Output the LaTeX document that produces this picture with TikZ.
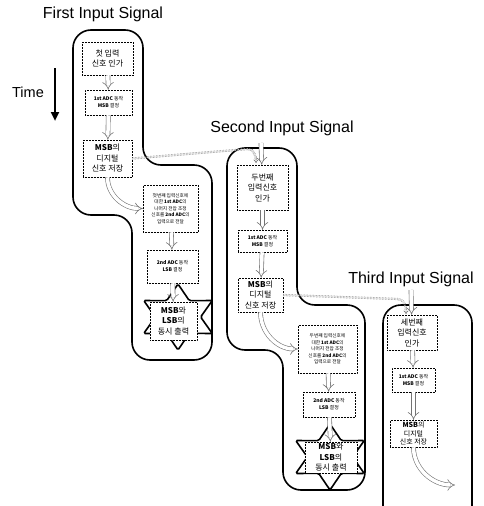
\documentclass[tikz,border=0pt]{standalone}
\usepackage{fontspec}
\setmainfont{Liberation Sans}
\newfontfamily\kr{Noto Sans CJK KR}
\usepackage{tikz}
\usetikzlibrary{shapes.geometric}
\usetikzlibrary{arrows.meta}
\tikzset{
	proc node/.style={draw,densely dotted,line width=0.5pt,fill=white,align=center,inner sep=0.5pt},
	big text/.style={font=\kr\fontsize{8}{10.5}\selectfont},
	small text/.style={font=\kr\fontsize{5}{7}\selectfont},
	tiny text/.style={font=\kr\fontsize{4.7}{6.6}\selectfont},
	title node/.style={font=\fontsize{16}{19}\selectfont},
	group line/.style={draw,line width=1.6pt,rounded corners=18pt},
	out star/.style={star,star points=6,star point ratio=1.75,draw,line width=1.6pt,
		inner sep=0pt,minimum size=66pt,rounded corners=1.5pt,xscale=1.2,fill=white},
	flow arrow/.style={draw=black!55,double=white,double distance=3.5pt,line width=0.6pt,
		-{Implies}},
	link line/.style={draw=black!60,double=white,double distance=1.2pt,line width=0.5pt,
		densely dotted,-{Implies}}
}

\begin{document}
\begin{tikzpicture}[x=1pt,y=1pt]
	\useasboundingbox (0,0) rectangle (484,-506);
	% titles and time axis
	\node[title node] (sig1) at (103,-14) {First Input Signal};
	\node[title node] (sig2) at (282,-128) {Second Input Signal};
	\node[title node] (sig3) at (411,-279) {Third Input Signal};
	\node[font=\fontsize{14.5}{17}\selectfont] (time) at (28,-92) {Time};
	\coordinate (time top) at (55,-68);
	\coordinate (time end) at (55,-121);
	\draw[line width=2.6pt,-{Triangle[length=9pt,width=8pt]}] (time top) -- (time end);

	% group outlines
	\draw[group line] (73,-30) -- (143,-30) -- (143,-165) -- (212,-165) -- (212,-360)
		-- (132,-360) -- (132,-215) -- (73,-215) -- cycle;
	\draw[group line] (227,-148) -- (297,-148) -- (297,-305) -- (365,-305) -- (365,-490)
		-- (283,-490) -- (283,-350) -- (227,-350) -- cycle;
	\draw[group line] (383,-506) -- (383,-305) -- (472,-305) -- (472,-506);

	% first input signal
	\node[proc node,big text,minimum width=51pt,minimum height=33pt] (g1b1) at (107.5,-58.5) {첫 입력\\신호 인가};
	\node[proc node,small text,minimum width=47pt,minimum height=25pt] (g1b2) at (108.5,-102.5) {\textbf{1st ADC} 동작\\\textbf{MSB} 결정};
	\node[proc node,big text,minimum width=49pt,minimum height=37pt] (g1b3) at (107.5,-158.5) {\textbf{MSB}의\\디지털\\신호 저장};
	\node[proc node,tiny text,minimum width=55pt,minimum height=47pt] (g1b4) at (170.5,-208.5) {첫번째 입력신호에\\대한 \textbf{1st ADC}의\\나머지 전압 조정\\신호를 \textbf{2nd ADC}의\\입력으로 전달};
	\node[proc node,small text,minimum width=51pt,minimum height=33pt] (g1b5) at (172.5,-266.5) {\textbf{2nd ADC} 동작\\\textbf{LSB} 결정};
	\node[out star] (g1star) at (178,-317) {};
	\node[proc node,big text,minimum width=47pt,minimum height=38pt] (g1out) at (173.5,-321) {\textbf{MSB}와\\\textbf{LSB}의\\동시 출력};

	% second input signal
	\node[proc node,big text,minimum width=51pt,minimum height=45pt] (g2b1) at (262.5,-187.5) {두번째\\입력신호\\인가};
	\node[proc node,small text,minimum width=49pt,minimum height=22pt] (g2b2) at (262.5,-241) {\textbf{1st ADC} 동작\\\textbf{MSB} 결정};
	\node[proc node,big text,minimum width=45pt,minimum height=34pt] (g2b3) at (260.5,-295) {\textbf{MSB}의\\디지털\\신호 저장};
	\node[proc node,tiny text,minimum width=59pt,minimum height=48pt] (g2b4) at (327.5,-349) {두번째 입력신호에\\대한 \textbf{1st ADC}의\\나머지 전압 조정\\신호를 \textbf{2nd ADC}의\\입력으로 전달};
	\node[proc node,small text,minimum width=52pt,minimum height=25pt] (g2b5) at (329,-404.5) {\textbf{2nd ADC} 동작\\\textbf{LSB} 결정};
	\node[out star] (g2star) at (330,-457) {};
	\node[proc node,big text,minimum width=52pt,minimum height=31pt] (g2out) at (331,-457.5) {\textbf{MSB}와\\\textbf{LSB}의\\동시 출력};

	% third input signal
	\node[proc node,big text,minimum width=50pt,minimum height=35pt] (g3b1) at (412,-332.5) {세번째\\입력신호\\인가};
	\node[proc node,small text,minimum width=43pt,minimum height=24pt] (g3b2) at (413.5,-380) {\textbf{1st ADC} 동작\\\textbf{MSB} 결정};
	\node[proc node,big text,font=\kr\fontsize{7}{8.6}\selectfont,minimum width=47pt,minimum height=27pt] (g3b3) at (413.5,-433.5) {\textbf{MSB}의\\디지털\\신호 저장};

	% inputs and outputs of the groups
	\coordinate (g2in) at (261,-143);
	\coordinate (g3in) at (411,-290);
	\coordinate (g3out) at (455,-485);

	% arrows
	\draw[flow arrow] (g1b1) -- (g1b2);
	\draw[flow arrow] (g1b2) -- (g1b3);
	\draw[flow arrow] (g1b3.south) to[out=-90,in=180] (g1b4.west);
	\draw[flow arrow] (g1b4) -- (g1b5);
	\draw[flow arrow] (g1b5) -- (g1out);
	\draw[link line] (g1b3.east) -- (248,-149) to[out=0,in=90] (256,-163);
	\draw[flow arrow] (g2in) -- (g2b1);
	\draw[flow arrow] (g2b1) -- (g2b2);
	\draw[flow arrow] (g2b2) -- (g2b3);
	\draw[flow arrow] (g2b3.south) to[out=-90,in=180] (g2b4.west);
	\draw[flow arrow] (g2b4) -- (g2b5);
	\draw[flow arrow] (g2b5) -- (g2out);
	\draw[link line] (g2b3.east) -- (398,-299) to[out=0,in=90] (406,-314);
	\draw[flow arrow] (g3in) -- (g3b1);
	\draw[flow arrow] (g3b1) -- (g3b2);
	\draw[flow arrow] (g3b2) -- (g3b3);
	\draw[flow arrow] (g3b3.south) to[out=-90,in=180] (g3out);
\end{tikzpicture}
\end{document}
